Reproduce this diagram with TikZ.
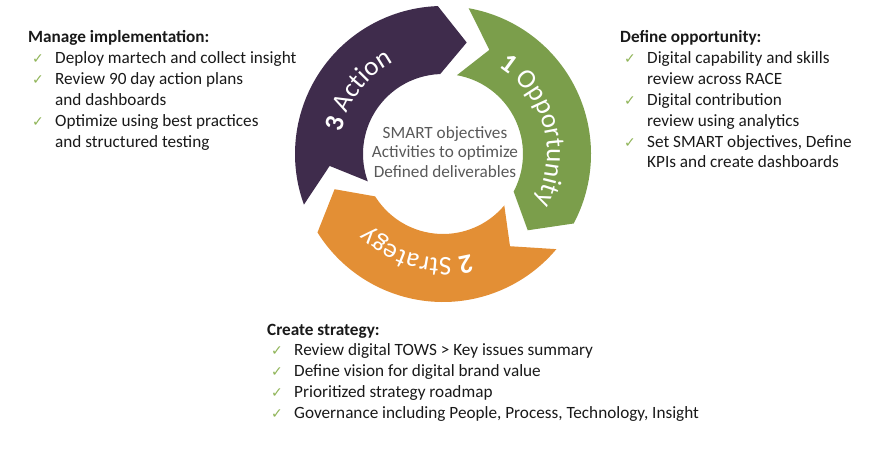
\documentclass[tikz,border=0pt]{standalone}
\usepackage{fontspec}
\setmainfont{Carlito}
\newfontfamily\checkfont{DejaVu Sans}
\usetikzlibrary{decorations.text}
\definecolor{actpurple}{RGB}{63,44,76}
\definecolor{oppgreen}{RGB}{123,158,75}
\definecolor{stratorange}{RGB}{227,143,53}
\definecolor{tickgreen}{RGB}{143,180,87}
\definecolor{hubgrey}{RGB}{89,89,89}
\newcommand\tick{\hspace*{4pt}{\checkfont\fontsize{14}{14}\selectfont\color{tickgreen}\char"2713}}
\newcommand\listfont{\fontsize{17.2}{20.8}\selectfont}
\newcommand\ringfont{\fontsize{27}{27}\selectfont}
\tikzset{
  steplist/.style={anchor=base west, inner sep=0pt, font=\listfont, text=black!90},
  ringlabel/.style={decorate, decoration={text along path, text align=center, text color=white}}
}
\begin{document}
\begin{tikzpicture}[x=1pt,y=1pt]
  \useasboundingbox (0,0) rectangle (882,448);
  \coordinate (hub) at (443,294);
  \begin{scope}[shift={(hub)}]
    \foreach \a/\b/\c [evaluate=\a as \an using \a-14, evaluate=\b as \bt using \b-14] in {80/-28/oppgreen, -40/-148/stratorange, 200/92/actpurple}
      \fill[\c] (\a:148pt) arc[start angle=\a, end angle=\b, radius=148pt] -- (\bt:114pt)
        -- (\b:80pt) arc[start angle=\b, end angle=\a, radius=80pt] -- (\an:114pt) -- cycle;
    \path[ringlabel, decoration={text={|\ringfont\bfseries|1 |\ringfont|Opportunity}}]
      (75:104pt) arc[start angle=75, end angle=-45, radius=104pt];
    \path[ringlabel, decoration={text={|\ringfont\bfseries|2 |\ringfont|Strategy}}]
      (-45:104pt) arc[start angle=-45, end angle=-165, radius=104pt];
    \path[ringlabel, decoration={text={|\ringfont\bfseries|3 |\ringfont|Action}}]
      (203:104pt) arc[start angle=203, end angle=83, radius=104pt];
  \end{scope}
  \node[align=center, text=hubgrey, font=\fontsize{17.2}{19.5}\selectfont] (goals) at (445,296)
    {SMART objectives\\Activities to optimize\\Defined deliverables};
  % step lists
  \node[steplist] (implement) at (28,405) {\begin{tabular}[t]{@{}p{27pt}@{}l@{}}
    \multicolumn{2}{@{}l@{}}{\bfseries Manage implementation:}\\
    \tick & Deploy martech and collect insight\\
    \tick & Review 90 day action plans\\
          & and dashboards\\
    \tick & Optimize using best practices\\
          & and structured testing
  \end{tabular}};
  \node[steplist] (opportunity) at (620,405) {\begin{tabular}[t]{@{}p{27pt}@{}l@{}}
    \multicolumn{2}{@{}l@{}}{\bfseries Define opportunity:}\\
    \tick & Digital capability and skills\\
          & review across RACE\\
    \tick & Digital contribution\\
          & review using analytics\\
    \tick & Set SMART objectives, Define\\
          & KPIs and create dashboards
  \end{tabular}};
  \node[steplist] (strategy) at (267,113) {\begin{tabular}[t]{@{}p{27pt}@{}l@{}}
    \multicolumn{2}{@{}l@{}}{\bfseries Create strategy:}\\
    \tick & Review digital TOWS > Key issues summary\\
    \tick & Define vision for digital brand value\\
    \tick & Prioritized strategy roadmap\\
    \tick & Governance including People, Process, Technology, Insight
  \end{tabular}};
\end{tikzpicture}
\end{document}
